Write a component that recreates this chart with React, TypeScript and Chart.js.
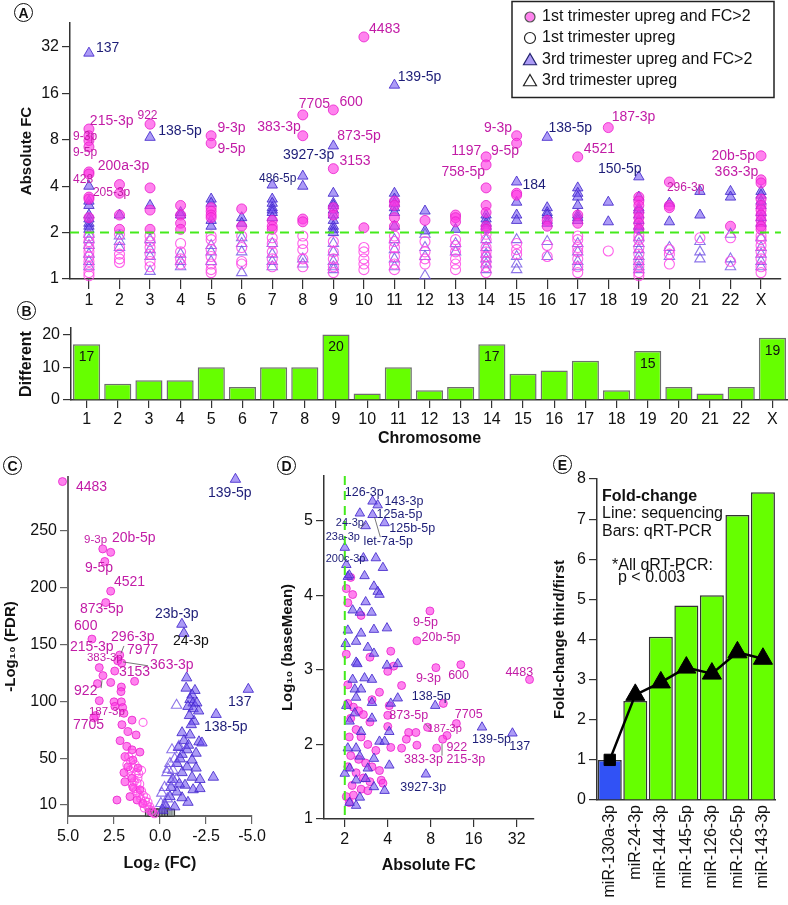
import React, { useEffect, useRef } from 'react';
import { Chart, registerables } from 'chart.js';

Chart.register(...registerables);

const FONT = '"Liberation Sans", Arial, Helvetica, sans-serif';

// ---------------- DATA ----------------
const CHROMOSOMES = ['1', '2', '3', '4', '5', '6', '7', '8', '9', '10', '11', '12', '13', '14', '15', '16', '17', '18', '19', '20', '21', '22', 'X'];
const A_Y_TICKS = [1, 2, 4, 8, 16, 32];
const FC_THRESHOLD = 2;

// Panel A: absolute FC per chromosome (index = chromosome position)
const A_FIRST_FC2 = [
  [9.4, 8.5, 7.9, 7.2, 4.95, 4.8, 3.4, 3.3, 2.5],
  [4.1, 3.6, 2.6, 2.1],
  [10.1, 3.9, 2.8, 2.1],
  [3.0, 2.6, 2.3, 2.1],
  [8.5, 7.6, 2.9, 2.75, 2.6, 2.5],
  [2.85, 2.2],
  [2.4, 2.2, 2.1],
  [11.6, 8.5, 2.45, 2.35],
  [12.5, 5.2, 2.9, 2.6],
  [37.2, 2.15],
  [3.2, 3.0, 2.5, 2.2],
  [2.4],
  [2.6, 2.5, 2.35],
  [6.2, 5.5, 3.9, 3.0, 2.7, 2.2, 2.1],
  [8.5, 7.6, 3.6, 3.5],
  [2.4, 2.2],
  [6.2, 2.6, 2.3],
  [9.6],
  [3.4, 3.2, 3.0, 2.7, 2.5, 2.3, 2.1],
  [4.26, 3.0, 2.9],
  [],
  [2.2],
  [6.3, 4.4, 4.2, 3.3, 3.0, 2.8, 2.6, 2.4, 2.2, 2.1],
];
const A_FIRST_UP = [
  [1.9, 1.75, 1.6, 1.5, 1.4, 1.3, 1.2, 1.1, 1.05],
  [1.95, 1.6, 1.45, 1.35, 1.28],
  [1.9, 1.75, 1.6, 1.45, 1.3, 1.2],
  [1.7, 1.5, 1.35, 1.25],
  [1.9, 1.8, 1.55, 1.4, 1.25, 1.15, 1.1],
  [1.9, 1.6, 1.3, 1.25],
  [1.85, 1.7, 1.5, 1.35, 1.2],
  [1.9, 1.7, 1.55, 1.35, 1.2],
  [1.75, 1.5, 1.35, 1.2, 1.1],
  [1.6, 1.5, 1.35, 1.25, 1.15],
  [1.9, 1.75, 1.6, 1.4, 1.25, 1.15],
  [1.75, 1.5, 1.35, 1.25],
  [1.8, 1.65, 1.5, 1.35, 1.25, 1.15],
  [1.95, 1.8, 1.6, 1.5, 1.4, 1.3, 1.2, 1.1],
  [1.7, 1.55, 1.45],
  [1.65, 1.4],
  [1.9, 1.8, 1.6, 1.5, 1.35, 1.2, 1.1],
  [1.52],
  [1.9, 1.8, 1.6, 1.45, 1.3, 1.2, 1.1, 1.05],
  [1.55, 1.45, 1.25],
  [1.85],
  [1.85, 1.3],
  [1.9, 1.8, 1.65, 1.5, 1.35, 1.2, 1.1],
];
const A_THIRD_FC2 = [
  [29.2, 4.0, 3.2, 3.0, 2.6, 2.45, 2.3, 2.2, 2.1],
  [2.6],
  [8.3, 3.0],
  [2.7, 2.6],
  [3.3, 3.1, 2.4, 2.2],
  [2.5, 2.3],
  [4.07, 3.3, 3.1, 2.9, 2.8, 2.7, 2.5],
  [4.65, 4.0],
  [7.3, 3.6, 3.1, 3.0, 2.8, 2.6, 2.4, 2.2, 2.1, 2.0],
  [],
  [18.1, 3.6, 3.3, 3.1, 2.9, 2.7, 2.2],
  [2.76, 2.05],
  [2.1],
  [2.6, 2.45, 2.3, 2.2, 2.1],
  [4.26, 3.15, 2.6, 2.4],
  [8.3, 2.9, 2.7, 2.6, 2.4, 2.3],
  [3.9, 3.6, 3.4, 3.0, 2.6, 2.5, 2.4],
  [3.15, 2.35],
  [4.6, 3.4, 2.9, 2.8, 2.6, 2.4, 2.2, 2.1],
  [3.1, 2.35],
  [3.7, 2.6],
  [3.7, 3.4],
  [3.7, 3.5, 3.2, 3.0, 2.7, 2.5, 2.3],
];
const A_THIRD_UP = [
  [1.95, 1.8, 1.65, 1.45, 1.3, 1.2],
  [1.9, 1.75, 1.6],
  [1.8, 1.55, 1.4, 1.12],
  [1.45, 1.3, 1.2],
  [1.65, 1.5, 1.3],
  [1.85, 1.7, 1.5, 1.1],
  [1.7, 1.45, 1.3, 1.2],
  [1.35, 1.25],
  [1.7, 1.5, 1.3, 1.2, 1.15],
  [],
  [1.8, 1.55, 1.35, 1.2],
  [1.95, 1.6, 1.4, 1.05],
  [1.7, 1.5],
  [1.8, 1.6, 1.45, 1.35, 1.25, 1.15],
  [1.8, 1.4, 1.25, 1.15],
  [1.75, 1.4],
  [1.7, 1.5, 1.3, 1.2],
  [],
  [1.85, 1.7, 1.55, 1.4, 1.3, 1.2, 1.15],
  [1.6, 1.4],
  [1.75, 1.5, 1.35],
  [1.95, 1.35, 1.2],
  [1.85, 1.6, 1.45, 1.3, 1.2],
];
// [text, x (chromosome position), y (FC), colour key, small]
const A_LABELS: any[] = [
  ['137', 1.23, 31.5, 'b'], ['215-3p', 1.03, 10.6, 'p'], ['9-3p', 0.48, 8.34, 'p', 1], ['9-5p', 0.48, 6.57, 'p', 1],
  ['200a-3p', 1.29, 5.41, 'p'], ['428', 0.48, 4.39, 'p', 1], ['205-3p', 1.13, 3.61, 'p', 1], ['922', 2.59, 11.4, 'p', 1],
  ['138-5p', 3.27, 9.12, 'b'], ['9-3p', 5.21, 9.54, 'p'], ['9-5p', 5.21, 6.97, 'p'], ['383-3p', 6.51, 9.69, 'p'],
  ['7705', 7.87, 13.66, 'p'], ['600', 9.2, 14.07, 'p'], ['873-5p', 9.13, 8.47, 'p'], ['3927-3p', 7.35, 6.37, 'b'],
  ['3153', 9.2, 5.83, 'p'], ['486-5p', 6.57, 4.45, 'b', 1], ['4483', 10.17, 41.9, 'p'], ['139-5p', 11.11, 20.4, 'b'],
  ['9-3p', 13.93, 9.54, 'p'], ['1197', 12.86, 6.77, 'p'], ['9-5p', 14.16, 6.77, 'p'], ['758-5p', 12.54, 4.95, 'p'],
  ['184', 15.19, 4.07, 'b'], ['138-5p', 16.04, 9.54, 'b'], ['4521', 17.2, 6.97, 'p'], ['187-3p', 18.11, 11.25, 'p'],
  ['150-5p', 17.66, 5.17, 'b'], ['296-3p', 19.92, 3.89, 'p', 1], ['20b-5p', 21.38, 6.28, 'p'], ['363-3p', 21.48, 4.95, 'p'],
];
const LEGEND_ITEMS = ['1st trimester upreg and FC>2', '1st trimester upreg', '3rd trimester upreg and FC>2', '3rd trimester upreg'];

// Panel B
const B_COUNTS = [17, 5, 6, 6, 10, 4, 10, 10, 20, 2, 10, 3, 4, 17, 8, 9, 12, 3, 15, 4, 2, 4, 19];
const B_Y_TICKS = [0, 10, 20];
const B_LABEL_MIN = 15;

// Panel C: [log2 FC, -log10 FDR]
const C_FIRST_FC2 = [
  [5.3, 293], [3.11, 234], [2.68, 231], [3.0, 223], [2.68, 197], [2.95, 187], [3.7, 155], [3.3, 130], [2.19, 141], [2.3, 136],
  [3.1, 123], [2.46, 127], [2.08, 134], [3.4, 116], [2.68, 117], [2.1, 113], [2.12, 109], [1.38, 118], [3.3, 101], [2.5, 100],
  [2.1, 100], [2.03, 95], [3.5, 88], [3.6, 86], [2.45, 96], [1.96, 90], [1.52, 84], [2.07, 80], [1.74, 74], [1.3, 71],
  [2.17, 66], [1.8, 61], [1.52, 58], [1.09, 56], [1.9, 52], [1.47, 49], [1.74, 43], [1.2, 42], [1.96, 38], [1.52, 33],
  [1.9, 30], [1.47, 25], [1.09, 23], [2.34, 14], [1.63, 17], [1.25, 14], [0.92, 11],
];
const C_FIRST_UP = [
  [0.92, 82], [1.6, 48], [1.45, 42], [1.3, 38], [1.55, 35], [1.2, 33], [1.4, 30], [1.1, 28], [1.0, 22], [1.2, 20],
  [0.9, 18], [1.05, 15], [0.8, 13], [0.95, 11], [0.7, 9], [0.85, 7], [0.6, 6], [0.5, 4], [0.4, 3], [1.7, 52],
  [1.5, 55], [1.35, 45], [1.15, 37], [0.75, 16], [0.65, 12], [1.25, 29], [1.5, 27], [1.0, 40], [0.55, 8], [0.45, 5],
  [1.8, 45], [1.65, 40], [1.3, 22], [1.1, 18], [1.4, 24], [0.3, 2],
];
const C_THIRD_FC2 = [
  [-4.1, 295], [-1.19, 168], [-1.3, 160], [-1.45, 121], [-4.8, 111], [-3.05, 89], [-1.85, 83], [-1.42, 112], [-1.9, 110], [-1.74, 106],
  [-1.63, 102], [-1.8, 99], [-2.0, 99], [-1.52, 96], [-1.8, 94], [-2.1, 92], [-1.2, 73], [-1.63, 71], [-2.12, 65], [-2.28, 64],
  [-1.47, 58], [-1.96, 55], [-1.2, 54], [-1.74, 49], [-0.92, 46], [-1.47, 43], [-1.96, 42], [-1.2, 38], [-1.74, 34], [-2.17, 32],
  [-2.9, 34], [-0.7, 32], [-1.36, 27], [-1.8, 23], [-2.17, 24], [-0.92, 21], [-0.54, 17], [-1.2, 16], [-1.52, 12], [-0.27, 10],
  [-0.8, 8], [-0.15, 5], [-1.6, 88], [-1.7, 80], [-1.3, 66], [-1.0, 60], [-1.55, 62], [-1.1, 50], [-0.6, 25], [-1.05, 28],
];
const C_THIRD_UP = [
  [-0.9, 97], [-0.65, 58], [-0.54, 46], [-0.38, 38], [-0.6, 30], [-0.1, 20], [-0.4, 15], [-0.05, 11], [-1.03, 61], [-0.8, 50],
  [-0.44, 41], [-0.9, 32], [-0.25, 25], [-0.7, 40], [-0.3, 8],
];
const C_NOT_SIG = [[0.6, 3], [0.45, 3], [0.3, 3], [0.15, 3], [0, 3], [-0.15, 3], [-0.3, 3], [-0.45, 3], [-0.6, 3]];
const C_X_TICKS = [5, 2.5, 0, -2.5, -5];
const C_Y_TICKS = [10, 50, 100, 150, 200, 250];
const C_LABELS: any[] = [
  ['4483', 4.57, 288, 'p'], ['139-5p', -2.61, 283, 'b'], ['9-3p', 4.13, 242, 'p', 1], ['20b-5p', 2.61, 243, 'p'],
  ['9-5p', 4.08, 217, 'p'], ['4521', 2.5, 205, 'p'], ['873-5p', 4.35, 181, 'p'], ['23b-3p', 0.27, 177, 'b'],
  ['600', 4.67, 166, 'p'], ['296-3p', 2.66, 157, 'p'], ['24-3p', -0.71, 153, 'k'], ['215-3p', 4.89, 148, 'p'],
  ['7977', 1.79, 145, 'p'], ['383-3p', 3.97, 139, 'p', 1], ['363-3p', 0.54, 132, 'p'], ['3153', 2.23, 126, 'p'],
  ['922', 4.67, 109, 'p'], ['137', -3.7, 100, 'b'], ['187-3p', 3.86, 91, 'p', 1], ['7705', 4.73, 80, 'p'],
  ['138-5p', -2.39, 78, 'b'],
];
const C_LEADERS = [[1.96, 149, 2.12, 142.5], [0.65, 131.6, 2.01, 135], [3.15, 119, 3.2, 112]];

// Panel D: [absolute FC, log10 baseMean]
const D_THIRD = [
  [3.13, 5.26], [3.4, 5.21], [2.55, 5.1], [3.13, 5.08], [3.8, 4.97], [2.8, 4.93], [2.0, 4.64], [2.7, 4.5], [3.3, 4.5], [3.7, 4.37],
  [2.05, 4.41], [2.1, 4.25], [2.15, 4.27], [2.75, 4.26], [3.2, 4.12], [3.4, 4.05], [3.5, 4.01], [2.8, 3.91], [2.27, 3.8], [2.55, 3.77],
  [3.08, 3.77], [2.1, 3.53], [2.6, 3.49], [3.2, 3.54], [3.95, 3.56], [2.03, 3.35], [2.4, 3.38], [2.9, 3.3], [3.2, 3.22], [2.4, 3.1],
  [2.45, 3.08], [3.95, 3.06], [4.7, 3.08], [2.27, 2.87], [2.75, 2.89], [3.1, 2.87], [2.35, 2.74], [2.6, 2.74], [2.4, 2.63], [3.1, 2.56],
  [4.7, 2.62], [4.2, 2.55], [8.6, 2.52], [18.3, 2.23], [29.9, 2.15], [7.4, 1.6], [2.16, 2.31], [2.35, 2.42], [3.1, 2.35], [2.6, 2.17],
  [3.5, 2.04], [4.1, 2.17], [3.8, 2.04], [2.4, 1.95], [2.1, 1.95], [2.55, 1.84], [3.2, 1.81], [4.1, 1.72], [2.16, 1.68], [2.9, 1.68],
  [2.0, 1.61], [2.4, 1.52], [2.8, 1.54], [3.2, 1.43], [3.8, 1.38], [2.55, 1.29], [2.4, 1.18], [2.16, 1.22], [2.05, 2.52],
];
const D_FIRST = [
  [39.4, 2.87], [13, 3.07], [8.7, 3.03], [7.9, 3.79], [6.4, 3.39], [9.8, 2.55], [12.1, 2.28], [10.4, 2.12], [9.7, 2.07], [8.8, 1.95],
  [6.4, 1.99], [5.6, 2.16], [6.3, 2.16], [5.4, 2.07], [5.0, 1.95], [4.2, 1.96], [4.0, 2.24], [4.0, 2.39], [7.6, 2.23], [4.2, 3.25],
  [4.4, 3.05], [4.0, 2.98], [5.0, 2.79], [3.5, 2.7], [3.0, 3.17], [2.05, 3.21], [2.6, 3.73], [2.27, 4.01], [2.05, 4.09], [2.1, 3.9],
  [2.2, 4.24], [2.1, 2.8], [4.1, 2.52], [3.1, 2.6], [2.1, 2.55], [2.3, 2.5], [2.5, 2.45], [2.2, 2.35], [2.7, 2.4], [3.0, 2.3],
  [2.4, 2.2], [2.15, 2.1], [2.6, 2.1], [2.9, 2.0], [3.3, 1.92], [2.2, 1.85], [2.5, 1.8], [2.8, 1.75], [3.1, 1.7], [3.5, 1.65],
  [2.1, 1.7], [2.4, 1.62], [2.7, 1.55], [3.0, 1.5], [3.6, 1.52], [2.25, 1.45], [2.6, 1.4], [2.9, 1.38], [2.05, 1.3], [2.3, 1.32],
  [2.15, 1.22], [3.7, 1.48],
];
const D_X_TICKS = [2, 4, 8, 16, 32];
const D_Y_TICKS = [1, 2, 3, 4, 5];
const D_LABELS: any[] = [
  ['126-3p', 2.0, 5.38, 'b'], ['143-3p', 3.79, 5.26, 'b'], ['125a-5p', 3.34, 5.08, 'b'], ['24-3p', 1.73, 4.97, 'b', 1],
  ['125b-5p', 4.1, 4.9, 'b'], ['23a-3p', 1.47, 4.78, 'b', 1], ['let-7a-5p', 2.71, 4.72, 'b'], ['200c-3p', 1.47, 4.49, 'b', 1],
  ['9-5p', 6.0, 3.63, 'p'], ['20b-5p', 6.9, 3.44, 'p'], ['9-3p', 6.3, 2.89, 'p'], ['600', 10.6, 2.93, 'p'],
  ['4483', 26.7, 2.97, 'p'], ['138-5p', 5.9, 2.64, 'b'], ['873-5p', 4.1, 2.39, 'p'], ['7705', 11.8, 2.4, 'p'],
  ['187-3p', 7.6, 2.21, 'p', 1], ['139-5p', 15.6, 2.07, 'b'], ['137', 28.4, 1.97, 'b'], ['922', 10.3, 1.96, 'p'],
  ['383-3p', 5.2, 1.8, 'p'], ['215-3p', 10.3, 1.8, 'p'], ['3927-3p', 4.9, 1.42, 'b'],
];
const D_LEADERS = [[3.23, 5.05, 3.55, 4.78], [2.55, 4.89, 2.8, 4.97], [7.3, 2.28, 7.9, 2.21], [9.6, 2.01, 9.6, 1.85]];

// Panel E
const E_GENES = ['miR-130a-3p', 'miR-24-3p', 'miR-144-3p', 'miR-145-5p', 'miR-126-3p', 'miR-126-5p', 'miR-143-3p'];
const E_QPCR = [1.0, 2.47, 4.07, 4.85, 5.1, 7.1, 7.67];
const E_SEQUENCING = [1.0, 2.62, 2.93, 3.3, 3.15, 3.68, 3.52];
const E_Y_TICKS = [0, 1, 2, 3, 4, 5, 6, 7, 8];
// [text, y value, indent px, bold]
const E_NOTES: any[] = [
  ['Fold-change', 7.56, 5, 1], ['Line: sequencing', 7.13, 5, 0], ['Bars: qRT-PCR', 6.68, 5, 0],
  ['*All qRT-PCR:', 5.84, 15, 0], ['p < 0.003', 5.54, 21, 0],
];

// ---------------- STYLES ----------------
const AXIS = '#333';
const TXT = '#111';
const COLORS: Record<string, string> = { p: '#c21ca6', b: '#1d1d78', k: '#111' };
const PINK_FILL = 'rgba(255, 55, 228, 0.62)';
const PINK_EDGE = 'rgba(232, 30, 205, 0.8)';
const PINK_OPEN = 'rgba(255, 70, 230, 0.85)';
const TRI_FILL = 'rgba(104, 72, 238, 0.55)';
const TRI_EDGE = 'rgba(68, 40, 205, 0.85)';
const TRI_OPEN = 'rgba(112, 82, 228, 0.8)';
const GREEN = '#44ea1c';
const BAR_GREEN = '#66ff00';
const BAR_BLUE = '#3152f5';

const tickFont = { family: FONT, size: 16 };
const titleFont = (size: number) => ({ family: FONT, size, weight: 'bold' as const });

function axisStyle(color = AXIS, width = 1.5, tickLength = 8) {
  return {
    grid: { display: true, drawOnChartArea: false, drawTicks: true, tickLength, color, lineWidth: 1.2 },
    border: { display: true, color, width },
  };
}
const fixedTicks = (vals: number[]) => (s: any) => { s.ticks = vals.map((v) => ({ value: v })); };
const fixW = (w: number) => (s: any) => { s.width = w; };
const fixH = (h: number) => (s: any) => { s.height = h; };
const rowsToPts = (rows: number[][]) => rows.flatMap((vals, i) => vals.map((v) => ({ x: i + 1, y: v })));
const pairsToPts = (pairs: number[][]) => pairs.map(([x, y]) => ({ x, y }));

// lets points that sit just beyond the axis limits still be drawn (as in the original figure)
const widenDrawArea = {
  id: 'widenDrawArea',
  beforeDatasetsDraw(chart: any) {
    const a = chart.chartArea;
    chart.$savedArea = a;
    chart.chartArea = { ...a, left: a.left - 30, right: a.right + 30, top: a.top - 30, bottom: a.bottom + 30 };
  },
  afterDatasetsDraw(chart: any) {
    if (chart.$savedArea) chart.chartArea = chart.$savedArea;
  },
};

function labelPlugin(id: string, labels: any[], size: number, small: number, leaders?: number[][]) {
  return {
    id,
    afterDatasetsDraw(chart: any) {
      const { ctx } = chart;
      const xs = chart.scales.x;
      const ys = chart.scales.y;
      ctx.save();
      if (leaders) {
        ctx.strokeStyle = '#555';
        ctx.lineWidth = 0.8;
        for (const [x1, y1, x2, y2] of leaders) {
          ctx.beginPath();
          ctx.moveTo(xs.getPixelForValue(x1), ys.getPixelForValue(y1));
          ctx.lineTo(xs.getPixelForValue(x2), ys.getPixelForValue(y2));
          ctx.stroke();
        }
      }
      ctx.textBaseline = 'middle';
      ctx.textAlign = 'left';
      for (const [t, x, y, c, sm] of labels) {
        ctx.font = `${sm ? small : size}px ${FONT}`;
        ctx.fillStyle = COLORS[c];
        ctx.fillText(t, xs.getPixelForValue(x), ys.getPixelForValue(y));
      }
      ctx.restore();
    },
  };
}

function dashPlugin(id: string, axis: 'x' | 'y', value: number) {
  return {
    id,
    afterDatasetsDraw(chart: any) {
      const { ctx, chartArea: a } = chart;
      ctx.save();
      ctx.strokeStyle = GREEN;
      ctx.lineWidth = 2;
      ctx.setLineDash([9, 6]);
      ctx.beginPath();
      if (axis === 'y') {
        const py = chart.scales.y.getPixelForValue(value);
        ctx.moveTo(a.left, py);
        ctx.lineTo(a.right, py);
      } else {
        const px = chart.scales.x.getPixelForValue(value);
        ctx.moveTo(px, a.top);
        ctx.lineTo(px, a.bottom);
      }
      ctx.stroke();
      ctx.restore();
    },
  };
}

function drawTri(ctx: any, x: number, y: number, r: number) {
  ctx.beginPath();
  ctx.moveTo(x, y - r);
  ctx.lineTo(x + 0.866 * r, y + 0.5 * r);
  ctx.lineTo(x - 0.866 * r, y + 0.5 * r);
  ctx.closePath();
}

const legendA = {
  id: 'legendA',
  afterDraw(chart: any) {
    const { ctx } = chart;
    ctx.save();
    ctx.fillStyle = '#fff';
    ctx.fillRect(512, 1.5, 262, 96);
    ctx.strokeStyle = '#222';
    ctx.lineWidth = 1.5;
    ctx.strokeRect(512, 1.5, 262, 96);
    const ys = [17, 38, 60, 81];
    ctx.lineWidth = 1.2;
    ctx.beginPath(); ctx.arc(530, ys[0], 5, 0, Math.PI * 2);
    ctx.fillStyle = PINK_FILL; ctx.fill(); ctx.strokeStyle = '#555'; ctx.stroke();
    ctx.beginPath(); ctx.arc(530, ys[1], 5.5, 0, Math.PI * 2);
    ctx.strokeStyle = '#222'; ctx.stroke();
    drawTri(ctx, 530, ys[2] + 1, 7.5);
    ctx.fillStyle = TRI_FILL; ctx.fill(); ctx.strokeStyle = '#22226e'; ctx.stroke();
    drawTri(ctx, 530, ys[3] + 1, 7.5);
    ctx.strokeStyle = '#222'; ctx.stroke();
    ctx.fillStyle = TXT;
    ctx.font = `16px ${FONT}`;
    ctx.textBaseline = 'middle';
    ctx.textAlign = 'left';
    LEGEND_ITEMS.forEach((t, i) => ctx.fillText(t, 542, ys[i]));
    ctx.restore();
  },
};

const barValueLabels = {
  id: 'barValues',
  afterDatasetsDraw(chart: any) {
    const { ctx } = chart;
    const meta = chart.getDatasetMeta(0);
    ctx.save();
    ctx.font = `14px ${FONT}`;
    ctx.fillStyle = TXT;
    ctx.textAlign = 'center';
    ctx.textBaseline = 'middle';
    meta.data.forEach((bar: any, i: number) => {
      const v = B_COUNTS[i];
      if (v >= B_LABEL_MIN) ctx.fillText(String(v), bar.x, bar.y + 13);
    });
    ctx.restore();
  },
};

const eNotes = {
  id: 'eNotes',
  afterDraw(chart: any) {
    const { ctx, chartArea: a } = chart;
    const ys = chart.scales.y;
    ctx.save();
    ctx.fillStyle = TXT;
    ctx.textAlign = 'left';
    ctx.textBaseline = 'middle';
    for (const [t, v, dx, bold] of E_NOTES) {
      ctx.font = `${bold ? 'bold ' : ''}16px ${FONT}`;
      ctx.fillText(t, a.left + dx, ys.getPixelForValue(v));
    }
    ctx.restore();
  },
};

const baseOptions = (padding: any) => ({
  responsive: false,
  animation: false,
  events: [],
  layout: { padding },
  plugins: { legend: { display: false }, tooltip: { enabled: false } },
});

// ---------------- PANELS ----------------
function makeA() {
  return {
    type: 'scatter',
    data: {
      datasets: [
        { data: rowsToPts(A_FIRST_UP), pointStyle: 'circle', pointRadius: 5, backgroundColor: 'rgba(0,0,0,0)', borderColor: PINK_OPEN, borderWidth: 1.1, clip: false },
        { data: rowsToPts(A_THIRD_UP), pointStyle: 'triangle', pointRadius: 6, backgroundColor: 'rgba(0,0,0,0)', borderColor: TRI_OPEN, borderWidth: 1.1, clip: false },
        { data: rowsToPts(A_FIRST_FC2), pointStyle: 'circle', pointRadius: 5, backgroundColor: PINK_FILL, borderColor: PINK_EDGE, borderWidth: 1, clip: false },
        { data: rowsToPts(A_THIRD_FC2), pointStyle: 'triangle', pointRadius: 6, backgroundColor: TRI_FILL, borderColor: TRI_EDGE, borderWidth: 1, clip: false },
      ],
    },
    options: {
      ...baseOptions({ top: 23, left: 0, right: 0, bottom: 0 }),
      scales: {
        x: {
          type: 'linear', min: 0.38, max: 23.65,
          ...axisStyle(AXIS, 1.5, 10),
          afterBuildTicks: fixedTicks(CHROMOSOMES.map((_, i) => i + 1)),
          ticks: { font: tickFont, color: TXT, padding: 2, autoSkip: false, maxRotation: 0, callback: (v: number) => CHROMOSOMES[v - 1] },
          afterFit: fixH(37),
        },
        y: {
          type: 'logarithmic', min: 1, max: 45.8,
          ...axisStyle(),
          afterBuildTicks: fixedTicks(A_Y_TICKS),
          ticks: { font: tickFont, color: TXT, padding: 3, callback: (v: number) => String(v) },
          title: { display: true, text: 'Absolute FC', font: titleFont(15), color: TXT, padding: { top: 18, bottom: 0 } },
          afterFit: fixW(70),
        },
      },
    },
    plugins: [widenDrawArea, dashPlugin('dashA', 'y', FC_THRESHOLD), labelPlugin('labA', A_LABELS, 14, 12), legendA],
  };
}

function makeB() {
  return {
    type: 'bar',
    data: {
      labels: CHROMOSOMES,
      datasets: [{ data: B_COUNTS, backgroundColor: BAR_GREEN, borderColor: '#6e6e6e', borderWidth: 1.5, barPercentage: 0.87, categoryPercentage: 1 }],
    },
    options: {
      ...baseOptions({ top: 16, left: 0, right: 0, bottom: 0 }),
      scales: {
        x: {
          ...axisStyle(),
          grid: { display: true, drawOnChartArea: false, drawTicks: true, tickLength: 8, color: AXIS, lineWidth: 1.2, offset: false },
          ticks: { font: tickFont, color: TXT, padding: 2, autoSkip: false, maxRotation: 0 },
          title: { display: true, text: 'Chromosome', font: titleFont(16), color: TXT, padding: { top: 0, bottom: 4 } },
          afterFit: fixH(52),
        },
        y: {
          min: 0, max: 22,
          ...axisStyle(),
          afterBuildTicks: fixedTicks(B_Y_TICKS),
          ticks: { font: tickFont, color: TXT, padding: 3 },
          title: { display: true, text: 'Different', font: titleFont(16), color: TXT, padding: { top: 17, bottom: 0 } },
          afterFit: fixW(71),
        },
      },
    },
    plugins: [barValueLabels],
  };
}

function makeC() {
  const C_AXIS = '#666';
  return {
    type: 'scatter',
    data: {
      datasets: [
        { data: pairsToPts(C_FIRST_UP), pointStyle: 'circle', pointRadius: 4, backgroundColor: 'rgba(0,0,0,0)', borderColor: PINK_OPEN, borderWidth: 1.1, clip: false },
        { data: pairsToPts(C_FIRST_FC2), pointStyle: 'circle', pointRadius: 4, backgroundColor: PINK_FILL, borderColor: PINK_EDGE, borderWidth: 1, clip: false },
        { data: pairsToPts(C_THIRD_UP), pointStyle: 'triangle', pointRadius: 6, backgroundColor: 'rgba(0,0,0,0)', borderColor: TRI_OPEN, borderWidth: 1.1, clip: false },
        { data: pairsToPts(C_THIRD_FC2), pointStyle: 'triangle', pointRadius: 6, backgroundColor: TRI_FILL, borderColor: TRI_EDGE, borderWidth: 1, clip: false },
        { data: pairsToPts(C_NOT_SIG), pointStyle: 'rect', pointRadius: 5, backgroundColor: 'rgba(150,160,160,0.8)', borderColor: '#333', borderWidth: 1, clip: false },
      ],
    },
    options: {
      ...baseOptions({ top: 37, left: 0, right: 28, bottom: 0 }),
      scales: {
        x: {
          type: 'linear', min: -5, max: 5, reverse: true,
          ...axisStyle(C_AXIS, 2),
          afterBuildTicks: fixedTicks(C_X_TICKS),
          ticks: { font: tickFont, color: TXT, padding: 3, autoSkip: false, maxRotation: 0, callback: (v: number) => v.toFixed(1) },
          title: { display: true, text: 'Log₂ (FC)', font: titleFont(16), color: TXT, padding: { top: 0, bottom: 7 } },
          afterFit: fixH(64),
        },
        y: {
          min: 0, max: 297,
          ...axisStyle(C_AXIS, 2),
          afterBuildTicks: fixedTicks(C_Y_TICKS),
          ticks: { font: tickFont, color: TXT, padding: 3 },
          title: { display: true, text: '-Log₁₀ (FDR)', font: titleFont(15), color: TXT, padding: { top: 2, bottom: 0 } },
          afterFit: fixW(68),
        },
      },
    },
    plugins: [widenDrawArea, labelPlugin('labC', C_LABELS, 14, 11.5, C_LEADERS)],
  };
}

function makeD() {
  return {
    type: 'scatter',
    data: {
      datasets: [
        { data: pairsToPts(D_THIRD), pointStyle: 'triangle', pointRadius: 5.5, backgroundColor: TRI_FILL, borderColor: TRI_EDGE, borderWidth: 1, clip: false },
        { data: pairsToPts(D_FIRST), pointStyle: 'circle', pointRadius: 4, backgroundColor: PINK_FILL, borderColor: PINK_EDGE, borderWidth: 1, clip: false },
      ],
    },
    options: {
      ...baseOptions({ top: 36, left: 0, right: 5, bottom: 0 }),
      scales: {
        x: {
          type: 'logarithmic', min: 1.43, max: 42,
          ...axisStyle(),
          afterBuildTicks: fixedTicks(D_X_TICKS),
          ticks: { font: tickFont, color: TXT, padding: 3, autoSkip: false, maxRotation: 0, callback: (v: number) => String(v) },
          title: { display: true, text: 'Absolute FC', font: titleFont(16), color: TXT, padding: { top: 0, bottom: 5 } },
          afterFit: fixH(61),
        },
        y: {
          min: 1, max: 5.6,
          ...axisStyle(),
          afterBuildTicks: fixedTicks(D_Y_TICKS),
          ticks: { font: tickFont, color: TXT, padding: 3 },
          title: { display: true, text: 'Log₁₀ (baseMean)', font: titleFont(15), color: TXT, padding: { top: 9, bottom: 0 } },
          afterFit: fixW(54),
        },
      },
    },
    plugins: [widenDrawArea, dashPlugin('dashD', 'x', FC_THRESHOLD), labelPlugin('labD', D_LABELS, 12.5, 11, D_LEADERS)],
  };
}

function makeE() {
  return {
    type: 'bar',
    data: {
      labels: E_GENES,
      datasets: [
        {
          type: 'line', data: E_SEQUENCING, order: 0, borderColor: '#000', borderWidth: 2.5,
          pointStyle: E_SEQUENCING.map((_, i) => (i === 0 ? 'rect' : 'triangle')),
          pointRadius: E_SEQUENCING.map((_, i) => (i === 0 ? 8 : 11)),
          pointBackgroundColor: '#000', pointBorderColor: '#000', pointBorderWidth: 1, clip: false,
        },
        {
          type: 'bar', data: E_QPCR, order: 1,
          backgroundColor: E_QPCR.map((_, i) => (i === 0 ? BAR_BLUE : BAR_GREEN)),
          borderColor: '#333', borderWidth: 1.5, barPercentage: 0.94, categoryPercentage: 1,
        },
      ],
    },
    options: {
      ...baseOptions({ top: 39, left: 0, right: 8, bottom: 0 }),
      scales: {
        x: {
          grid: { display: false, drawTicks: false },
          border: { display: true, color: AXIS, width: 1.5 },
          ticks: { font: tickFont, color: TXT, padding: 5, autoSkip: false, minRotation: 90, maxRotation: 90 },
          afterFit: fixH(105),
        },
        y: {
          min: 0, max: 8,
          ...axisStyle(),
          afterBuildTicks: fixedTicks(E_Y_TICKS),
          ticks: { font: tickFont, color: TXT, padding: 3 },
          title: { display: true, text: 'Fold-change third/first', font: titleFont(15), color: TXT, padding: { top: 21, bottom: 0 } },
          afterFit: fixW(67),
        },
      },
    },
    plugins: [eNotes],
  };
}

// ---------------- COMPONENTS ----------------
function ChartBox({ x, y, w, h, make }: any) {
  const ref = useRef<HTMLCanvasElement>(null);
  useEffect(() => {
    const chart = new Chart(ref.current as HTMLCanvasElement, make() as any);
    return () => chart.destroy();
  }, []);
  return <canvas ref={ref} width={w} height={h} style={{ position: 'absolute', left: x, top: y, width: w, height: h }} />;
}

const PANEL_LETTERS: [string, number, number][] = [['A', 24, 13], ['B', 27, 311], ['C', 13, 466], ['D', 287, 466], ['E', 563, 465]];

function Letter({ ch, x, y }: any) {
  return (
    <div
      style={{
        position: 'absolute', left: x - 10, top: y - 10, width: 17, height: 17, border: '1.5px solid #111', borderRadius: '50%',
        display: 'flex', alignItems: 'center', justifyContent: 'center', fontFamily: FONT, fontWeight: 'bold', fontSize: 14,
        color: '#111', background: '#fff', lineHeight: 1,
      }}
    >
      {ch}
    </div>
  );
}

export default function App() {
  return (
    <div style={{ position: 'absolute', left: 0, top: 0, width: 788, height: 905, background: '#fff', overflow: 'hidden' }}>
      <ChartBox x={0} y={0} w={788} h={316} make={makeA} />
      <ChartBox x={0} y={312} w={788} h={140} make={makeB} />
      <ChartBox x={0} y={440} w={280} h={440} make={makeC} />
      <ChartBox x={270} y={440} w={270} h={440} make={makeD} />
      <ChartBox x={530} y={440} w={258} h={465} make={makeE} />
      {PANEL_LETTERS.map(([ch, x, y]) => <Letter key={ch} ch={ch} x={x} y={y} />)}
    </div>
  );
}
